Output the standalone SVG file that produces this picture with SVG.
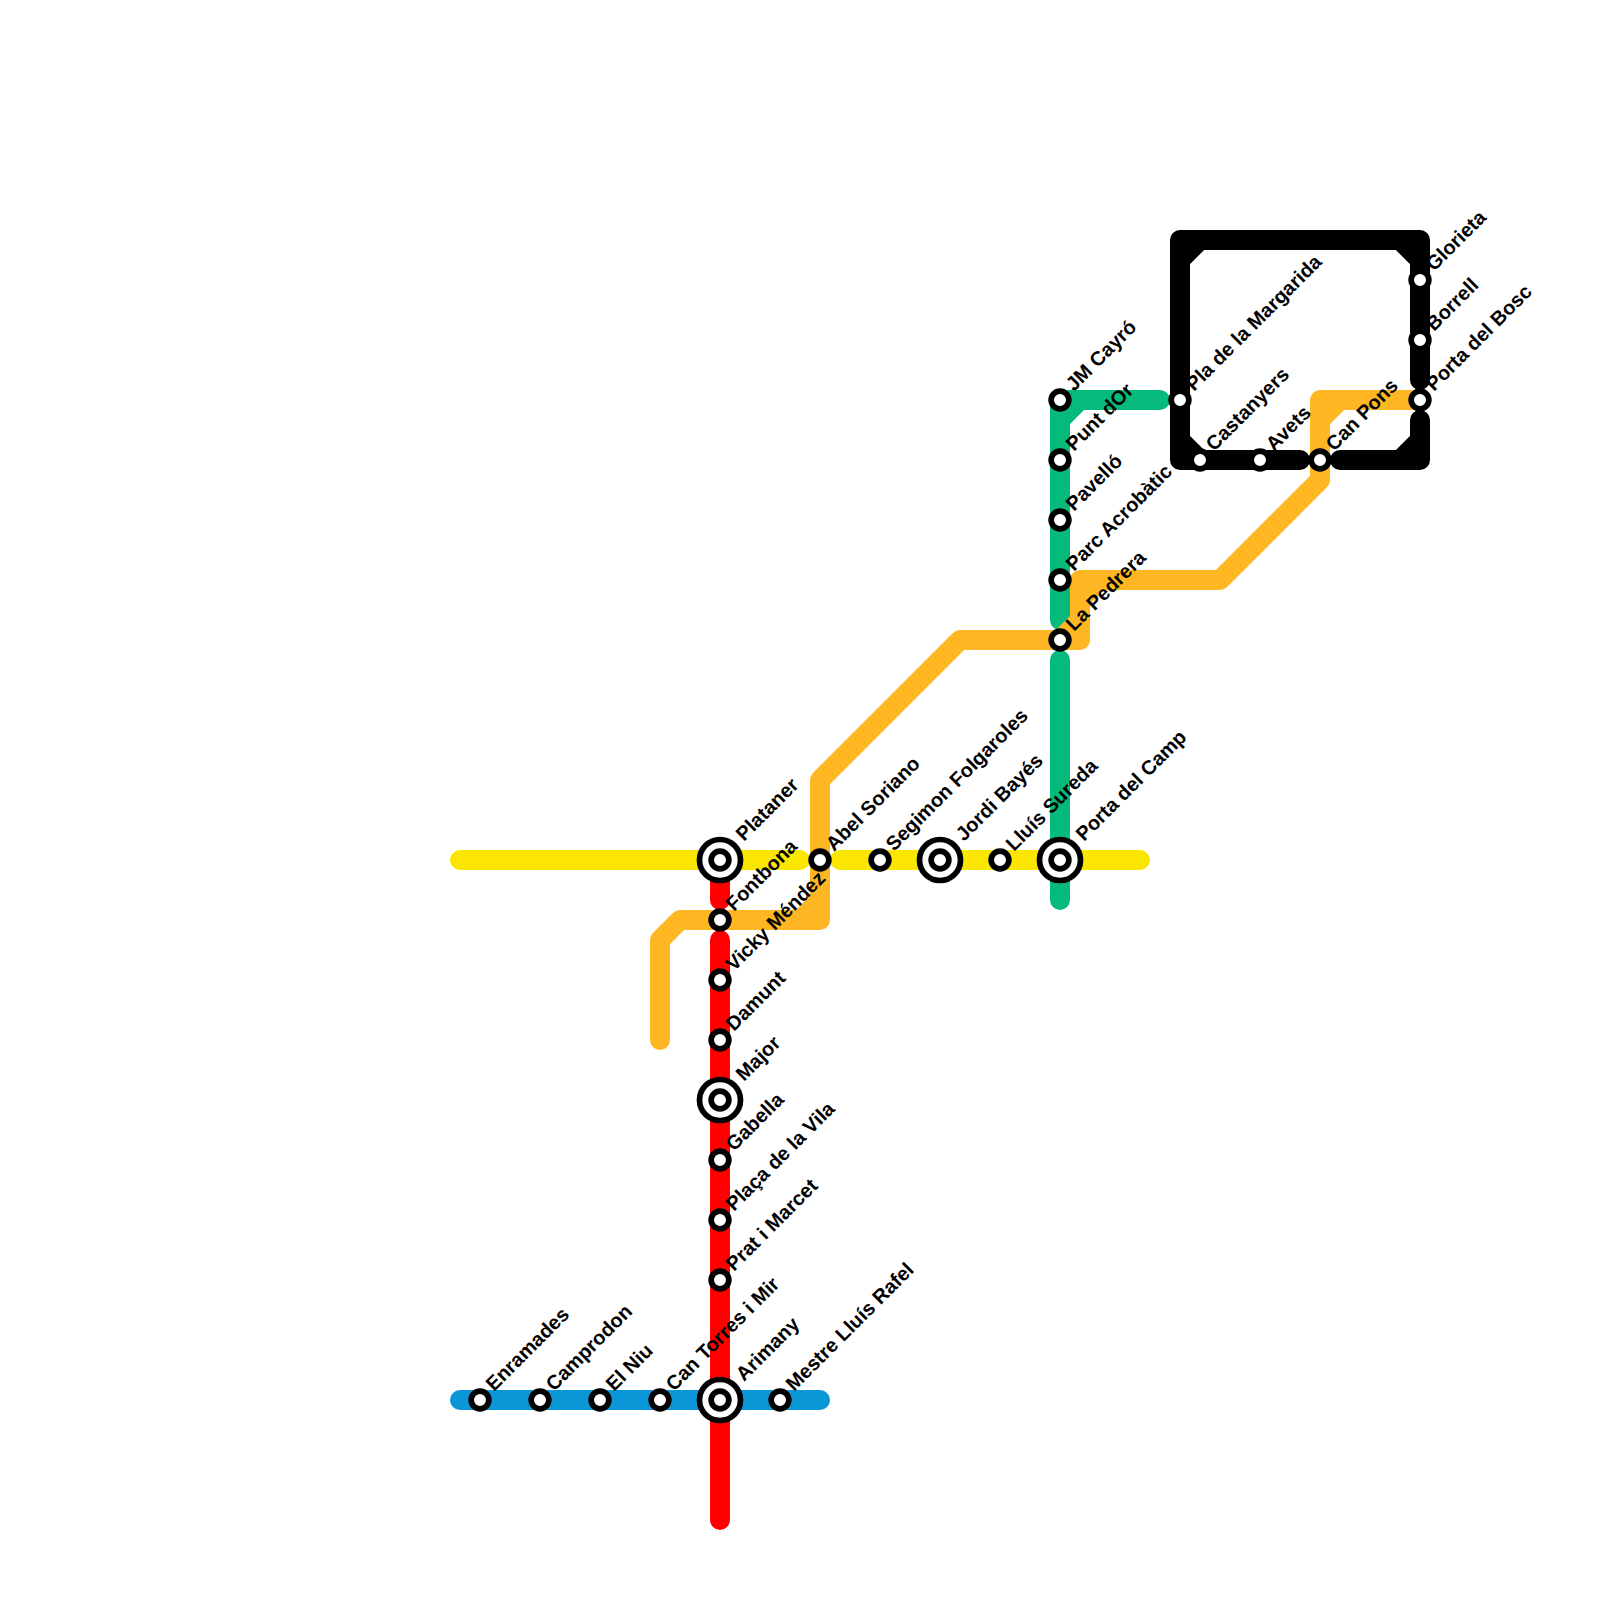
<svg xmlns="http://www.w3.org/2000/svg" width="1600" height="1600" viewBox="0 0 1600 1600">
<style>
.s{fill:#fff;stroke:#000;stroke-width:5.7}
.t{font-family:"Liberation Sans",Arial,sans-serif;font-weight:bold;font-size:20px;fill:#000}
</style>
<defs>
<g id="st"><circle class="s" r="8.85"/></g>
<g id="ic"><circle class="s" r="20.5"/><circle class="s" r="8.85"/></g>
</defs>
<rect width="1600" height="1600" fill="#fff"/>
<g id="connectors" fill="none" stroke-width="20" stroke-linecap="round" stroke-linejoin="round">
<path stroke="#fae600" d="M460 860H800M840 860H1140"/>
<path stroke="#ff0000" d="M720 860V900M720 940V1520"/>
<path stroke="#0a96d7" d="M460 1400H820"/>
<path stroke="#05ba7b" d="M1160 400H1060V620M1060 420L1080 400M1060 660V900"/>
<path stroke="#feb722" d="M660 1040V940L680 920H820V780L960 640H1080V580H1220L1320 480V400H1420M800 920L820 900M1060 640L1080 620M1080 600L1100 580M1320 420L1340 400"/>
<path stroke="#000" d="M1420 380V240H1180V460H1300M1340 460H1420V420M1180 260L1200 240M1400 240L1420 260M1180 440L1200 460M1400 460L1420 440"/>
</g>
<g id="n1"><use href="#st" x="480" y="1400"/><text class="t" transform="translate(494 1392) rotate(-45)">Enramades</text></g>
<g id="n2"><use href="#st" x="540" y="1400"/><text class="t" transform="translate(554 1392) rotate(-45)">Camprodon</text></g>
<g id="n3"><use href="#st" x="600" y="1400"/><text class="t" transform="translate(614 1392) rotate(-45)">El Niu</text></g>
<g id="n4"><use href="#st" x="660" y="1400"/><text class="t" transform="translate(674 1392) rotate(-45)">Can Torres i Mir</text></g>
<g id="n5"><use href="#ic" x="720" y="1400"/><text class="t" transform="translate(744 1382) rotate(-45)">Arimany</text></g>
<g id="n6"><use href="#st" x="780" y="1400"/><text class="t" transform="translate(794 1392) rotate(-45)">Mestre Lluís Rafel</text></g>
<g id="n7"><use href="#ic" x="720" y="860"/><text class="t" transform="translate(744 842) rotate(-45)">Plataner</text></g>
<g id="n8"><use href="#st" x="720" y="920"/><text class="t" transform="translate(734 912) rotate(-45)">Fontbona</text></g>
<g id="n9"><use href="#st" x="720" y="980"/><text class="t" transform="translate(734 972) rotate(-45)">Vicky Méndez</text></g>
<g id="n10"><use href="#st" x="720" y="1040"/><text class="t" transform="translate(734 1032) rotate(-45)">Damunt</text></g>
<g id="n11"><use href="#ic" x="720" y="1100"/><text class="t" transform="translate(744 1082) rotate(-45)">Major</text></g>
<g id="n12"><use href="#st" x="720" y="1160"/><text class="t" transform="translate(734 1152) rotate(-45)">Gabella</text></g>
<g id="n13"><use href="#st" x="720" y="1220"/><text class="t" transform="translate(734 1212) rotate(-45)">Plaça de la Vila</text></g>
<g id="n14"><use href="#st" x="720" y="1280"/><text class="t" transform="translate(734 1272) rotate(-45)">Prat i Marcet</text></g>
<g id="n15"><use href="#st" x="820" y="860"/><text class="t" transform="translate(834 852) rotate(-45)">Abel Soriano</text></g>
<g id="n16"><use href="#st" x="880" y="860"/><text class="t" transform="translate(894 852) rotate(-45)">Segimon Folgaroles</text></g>
<g id="n17"><use href="#ic" x="940" y="860"/><text class="t" transform="translate(964 842) rotate(-45)">Jordi Bayés</text></g>
<g id="n18"><use href="#st" x="1000" y="860"/><text class="t" transform="translate(1014 852) rotate(-45)">Lluís Sureda</text></g>
<g id="n19"><use href="#ic" x="1060" y="860"/><text class="t" transform="translate(1084 842) rotate(-45)">Porta del Camp</text></g>
<g id="n20"><use href="#st" x="1060" y="400"/><text class="t" transform="translate(1074 392) rotate(-45)">JM Cayró</text></g>
<g id="n21"><use href="#st" x="1060" y="460"/><text class="t" transform="translate(1074 452) rotate(-45)">Punt dOr</text></g>
<g id="n22"><use href="#st" x="1060" y="520"/><text class="t" transform="translate(1074 512) rotate(-45)">Pavelló</text></g>
<g id="n23"><use href="#st" x="1060" y="580"/><text class="t" transform="translate(1074 572) rotate(-45)">Parc Acrobàtic</text></g>
<g id="n24"><use href="#st" x="1060" y="640"/><text class="t" transform="translate(1074 632) rotate(-45)">La Pedrera</text></g>
<g id="n25"><use href="#st" x="1180" y="400"/><text class="t" transform="translate(1194 392) rotate(-45)">Pla de la Margarida</text></g>
<g id="n26"><use href="#st" x="1200" y="460"/><text class="t" transform="translate(1214 452) rotate(-45)">Castanyers</text></g>
<g id="n27"><use href="#st" x="1260" y="460"/><text class="t" transform="translate(1274 452) rotate(-45)">Avets</text></g>
<g id="n28"><use href="#st" x="1320" y="460"/><text class="t" transform="translate(1334 452) rotate(-45)">Can Pons</text></g>
<g id="n29"><use href="#st" x="1420" y="280"/><text class="t" transform="translate(1434 272) rotate(-45)">Glorieta</text></g>
<g id="n30"><use href="#st" x="1420" y="340"/><text class="t" transform="translate(1434 332) rotate(-45)">Borrell</text></g>
<g id="n31"><use href="#st" x="1420" y="400"/><text class="t" transform="translate(1434 392) rotate(-45)">Porta del Bosc</text></g>
</svg>
